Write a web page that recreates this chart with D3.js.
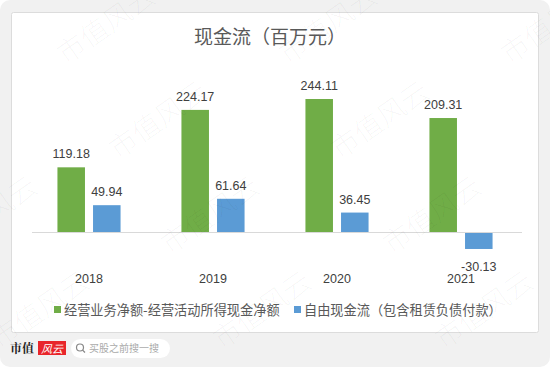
<!DOCTYPE html>
<html><head><meta charset="utf-8">
<script src="https://cdn.jsdelivr.net/npm/d3@7/dist/d3.min.js"></script>
<style>html,body{margin:0;padding:0;background:#fff;}svg{display:block;}</style>
</head><body>
<svg id="c" width="550" height="367"></svg>
<script>
const years = ["2018","2019","2020","2021"];
const opCash = [119.18, 224.17, 244.11, 209.31];
const freeCash = [49.94, 61.64, 36.45, -30.13];
const seriesNames = ["经营业务净额-经营活动所得现金净额", "自由现金流（包含租赁负债付款）"];
const seriesColors = ["#70ad47", "#5b9bd5"];
const title = "现金流（百万元）";

const svg = d3.select("#c");
const CJK = "'Noto Sans CJK SC','Noto Sans',sans-serif";
const NUM = "'Liberation Sans','Noto Sans CJK SC',sans-serif";

// outer background
svg.append("rect").attr("x",0).attr("y",0).attr("width",550).attr("height",367)
  .attr("rx",10).attr("fill","#f1f1f1");
// card
svg.append("rect").attr("x",11.5).attr("y",12.5).attr("width",527).attr("height",320)
  .attr("rx",2).attr("fill","#fff").attr("stroke","#dcdcdc").attr("stroke-width",1);

// title
svg.append("text").attr("x",270).attr("y",44).attr("text-anchor","middle")
  .attr("font-family",CJK).attr("font-size",19).attr("fill","#595959").text(title);

const x = d3.scaleBand().domain(years).range([27, 523]).paddingInner(0).paddingOuter(0);
const y = d3.scaleLinear().domain([0, 244.11]).range([232.5, 99]);
const bw = x.bandwidth() * 0.222;
const gap = x.bandwidth() * 0.065;

const data = [opCash, freeCash];
data.forEach((vals, si) => {
  const off = si === 0 ? -gap/2 - bw : gap/2;
  const g = svg.append("g");
  g.selectAll("rect").data(vals).join("rect")
    .attr("x", (d,i) => x(years[i]) + x.bandwidth()/2 + off)
    .attr("y", d => d >= 0 ? y(d) : y(0))
    .attr("width", bw)
    .attr("height", d => Math.abs(y(d) - y(0)))
    .attr("fill", seriesColors[si]);
  g.selectAll("text").data(vals).join("text")
    .attr("x", (d,i) => x(years[i]) + x.bandwidth()/2 + off + bw/2)
    .attr("y", d => d >= 0 ? y(d) - 9 : y(d) + 22)
    .attr("text-anchor","middle")
    .attr("font-family",NUM).attr("font-size",12.5).attr("fill","#404040")
    .text(d => d.toFixed(2));
});

// baseline axis
const axis = d3.axisBottom(x).tickSize(0).tickPadding(0);
const ag = svg.append("g").attr("transform",`translate(0,${y(0)})`).call(axis);
ag.select(".domain").attr("stroke","#d9d9d9").attr("d","M32,0H522");
ag.selectAll("text").attr("y", 50).attr("dy", 0)
  .attr("font-family",NUM).attr("font-size",12.5).attr("fill","#404040");

// legend
const legX = [54, 294];
seriesNames.forEach((n, i) => {
  svg.append("rect").attr("x",legX[i]).attr("y",306).attr("width",7).attr("height",7).attr("fill",seriesColors[i]);
  svg.append("text").attr("x",legX[i]+10).attr("y",314.5)
    .attr("font-family",CJK).attr("font-size",13.2).attr("fill","#595959").text(n);
});

// bottom branding
svg.append("text").attr("x",10).attr("y",353).attr("font-family","'Noto Serif CJK SC','Noto Sans CJK SC',serif")
  .attr("font-weight","bold").attr("font-size",12).attr("fill","#222").text("市值");
svg.append("rect").attr("x",38).attr("y",341).attr("width",28).attr("height",14).attr("fill","#e8262b");
svg.append("text").attr("x",52).attr("y",352.5).attr("text-anchor","middle").attr("font-family",CJK)
  .attr("font-style","italic").attr("font-size",11).attr("fill","#fff").text("风云");
svg.append("rect").attr("x",71).attr("y",339).attr("width",99).attr("height",19).attr("rx",9.5).attr("fill","#fff");
svg.append("circle").attr("cx",80).attr("cy",347.5).attr("r",3.5).attr("fill","none").attr("stroke","#888").attr("stroke-width",1.2);
svg.append("line").attr("x1",82.6).attr("y1",350.1).attr("x2",85).attr("y2",352.5).attr("stroke","#888").attr("stroke-width",1.3);
svg.append("text").attr("x",89).attr("y",352).attr("font-family",CJK).attr("font-size",10).attr("fill","#aaa").text("买股之前搜一搜");

// watermarks
const wm = [];
for (let j = 0; j < 4; j++) {
  for (let i = -1; i < 3; i++) {
    wm.push([106 + 222*i + 52*j, 25 + 95*j]);
  }
}
svg.append("g").selectAll("text").data(wm).join("text")
  .attr("transform", d => `translate(${d[0]},${d[1]}) rotate(-35)`)
  .attr("text-anchor","middle").attr("dy","0.35em")
  .attr("font-family",CJK).attr("font-weight",300).attr("font-size",28).attr("fill","#000").attr("fill-opacity",0.035)
  .text("市值风云");
</script>
</body></html>
